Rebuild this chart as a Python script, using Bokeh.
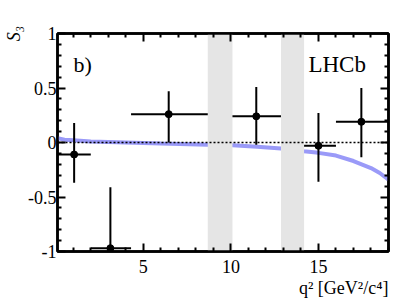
from bokeh.plotting import figure
from bokeh.models import LinearAxis, FixedTicker, Range1d, Label, Span, Title
from bokeh.embed import file_html
from bokeh.resources import INLINE

# ---- data ----
bin_lo = [0.1, 2.0, 4.3, 10.09, 14.18, 16.0]
bin_hi = [2.0, 4.3, 8.68, 12.86, 16.0, 19.0]
x_mean = [1.05, 3.12, 6.45, 11.45, 15.0, 17.45]
s3_val = [-0.11, -0.97, 0.26, 0.24, -0.03, 0.19]
s3_hi = [0.18, -0.41, 0.47, 0.51, 0.27, 0.50]
s3_lo = [-0.37, -1.0, 0.0, -0.02, -0.36, -0.135]

veto_lo = [8.68, 12.86]
veto_hi = [10.09, 14.18]

sm_x = [0.1, 0.5, 1.0, 2.0, 4.0, 6.0, 8.68, 10.09, 11.5, 12.86, 14.18, 15.0, 16.0, 17.0, 18.0, 18.5, 19.0]
sm_y = [0.04, 0.025, 0.02, 0.01, 0.0, -0.01, -0.02, -0.025, -0.04, -0.055, -0.08, -0.095, -0.12, -0.17, -0.235, -0.28, -0.34]

x_major = [5, 10, 15]
x_minor = [1, 2, 3, 4, 6, 7, 8, 9, 11, 12, 13, 14, 16, 17, 18, 19]
y_major = [-1, -0.5, 0, 0.5, 1]
y_minor = [-0.9, -0.8, -0.7, -0.6, -0.4, -0.3, -0.2, -0.1, 0.1, 0.2, 0.3, 0.4, 0.6, 0.7, 0.8, 0.9]
y_labels = {-1: "-1", -0.5: "-0.5", 0: "0", 0.5: "0.5", 1: "1"}

x_title = "q² [GeV²/c⁴]"
y_title = "S₃"

FONT = "Liberation Serif"

p = figure(width=409, height=300,
           min_border_left=57, min_border_right=21, min_border_top=33, min_border_bottom=49,
           x_range=Range1d(0.1, 19.0), y_range=Range1d(-1, 1),
           x_axis_location=None, y_axis_location=None,
           output_backend="svg", toolbar_location=None)
p.grid.visible = False
p.outline_line_color = "black"
p.outline_line_width = 2.5
p.background_fill_color = "white"
p.border_fill_color = "white"


def make_axis(ticks, minors, show_labels):
    ax = LinearAxis(ticker=FixedTicker(ticks=ticks, minor_ticks=minors))
    ax.axis_line_width = 2.5
    ax.axis_line_color = "black"
    ax.major_tick_in = 8
    ax.major_tick_out = 0
    ax.minor_tick_in = 4
    ax.minor_tick_out = 0
    ax.major_tick_line_width = 2
    ax.minor_tick_line_width = 2
    ax.major_label_text_font = FONT
    ax.major_label_text_color = "black"
    ax.major_label_text_font_size = "18px"
    ax.axis_label_text_font = FONT
    ax.axis_label_text_color = "black"
    ax.axis_label_text_font_style = "normal"
    if not show_labels:
        ax.major_label_overrides = {t: "" for t in ticks}
        ax.major_label_standoff = 0
    return ax


bx = make_axis(x_major, x_minor, True)
bx.major_label_standoff = 8
p.add_layout(bx, "below")

# x title, right-aligned under the axis
p.add_layout(Title(text=x_title, align="right", standoff=0, text_font=FONT,
                   text_font_size="18px", text_font_style="normal", text_color="black"), "below")

lx = make_axis(y_major, y_minor, True)
lx.major_label_standoff = 1
lx.major_label_overrides = y_labels
lx.axis_label = y_title
lx.axis_label_align = "end"
lx.axis_label_standoff = 1
lx.axis_label_text_font_size = "18px"
lx.axis_label_text_font_style = "italic"
p.add_layout(lx, "left")

p.add_layout(make_axis(x_major, x_minor, False), "above")
p.add_layout(make_axis(y_major, y_minor, False), "right")

# SM prediction curve
p.line(sm_x, sm_y, line_color="#9a9af8", line_width=4)

# vetoed charmonium regions
p.quad(left=veto_lo, right=veto_hi, bottom=-1, top=1, fill_color="#e5e5e5", line_color=None)

# zero line
p.add_layout(Span(location=0, dimension="width", line_color="black", line_width=1.5, line_dash="2 2"))

# data points with error bars
p.segment(x0=x_mean, y0=s3_lo, x1=x_mean, y1=s3_hi, line_color="black", line_width=2)
p.segment(x0=bin_lo, y0=s3_val, x1=bin_hi, y1=s3_val, line_color="black", line_width=2)
p.scatter(x_mean, s3_val, size=7, color="black")


def lab(x, y, text, size):
    p.add_layout(Label(x=x, y=y, text=text, text_font=FONT, text_font_size=size,
                       text_color="black", text_align="left", text_baseline="alphabetic"))


lab(1.01, 0.72, "b)", "22px")
lab(14.43, 0.72, "LHCb", "23px")

open("out.html", "w").write(file_html(p, INLINE))
